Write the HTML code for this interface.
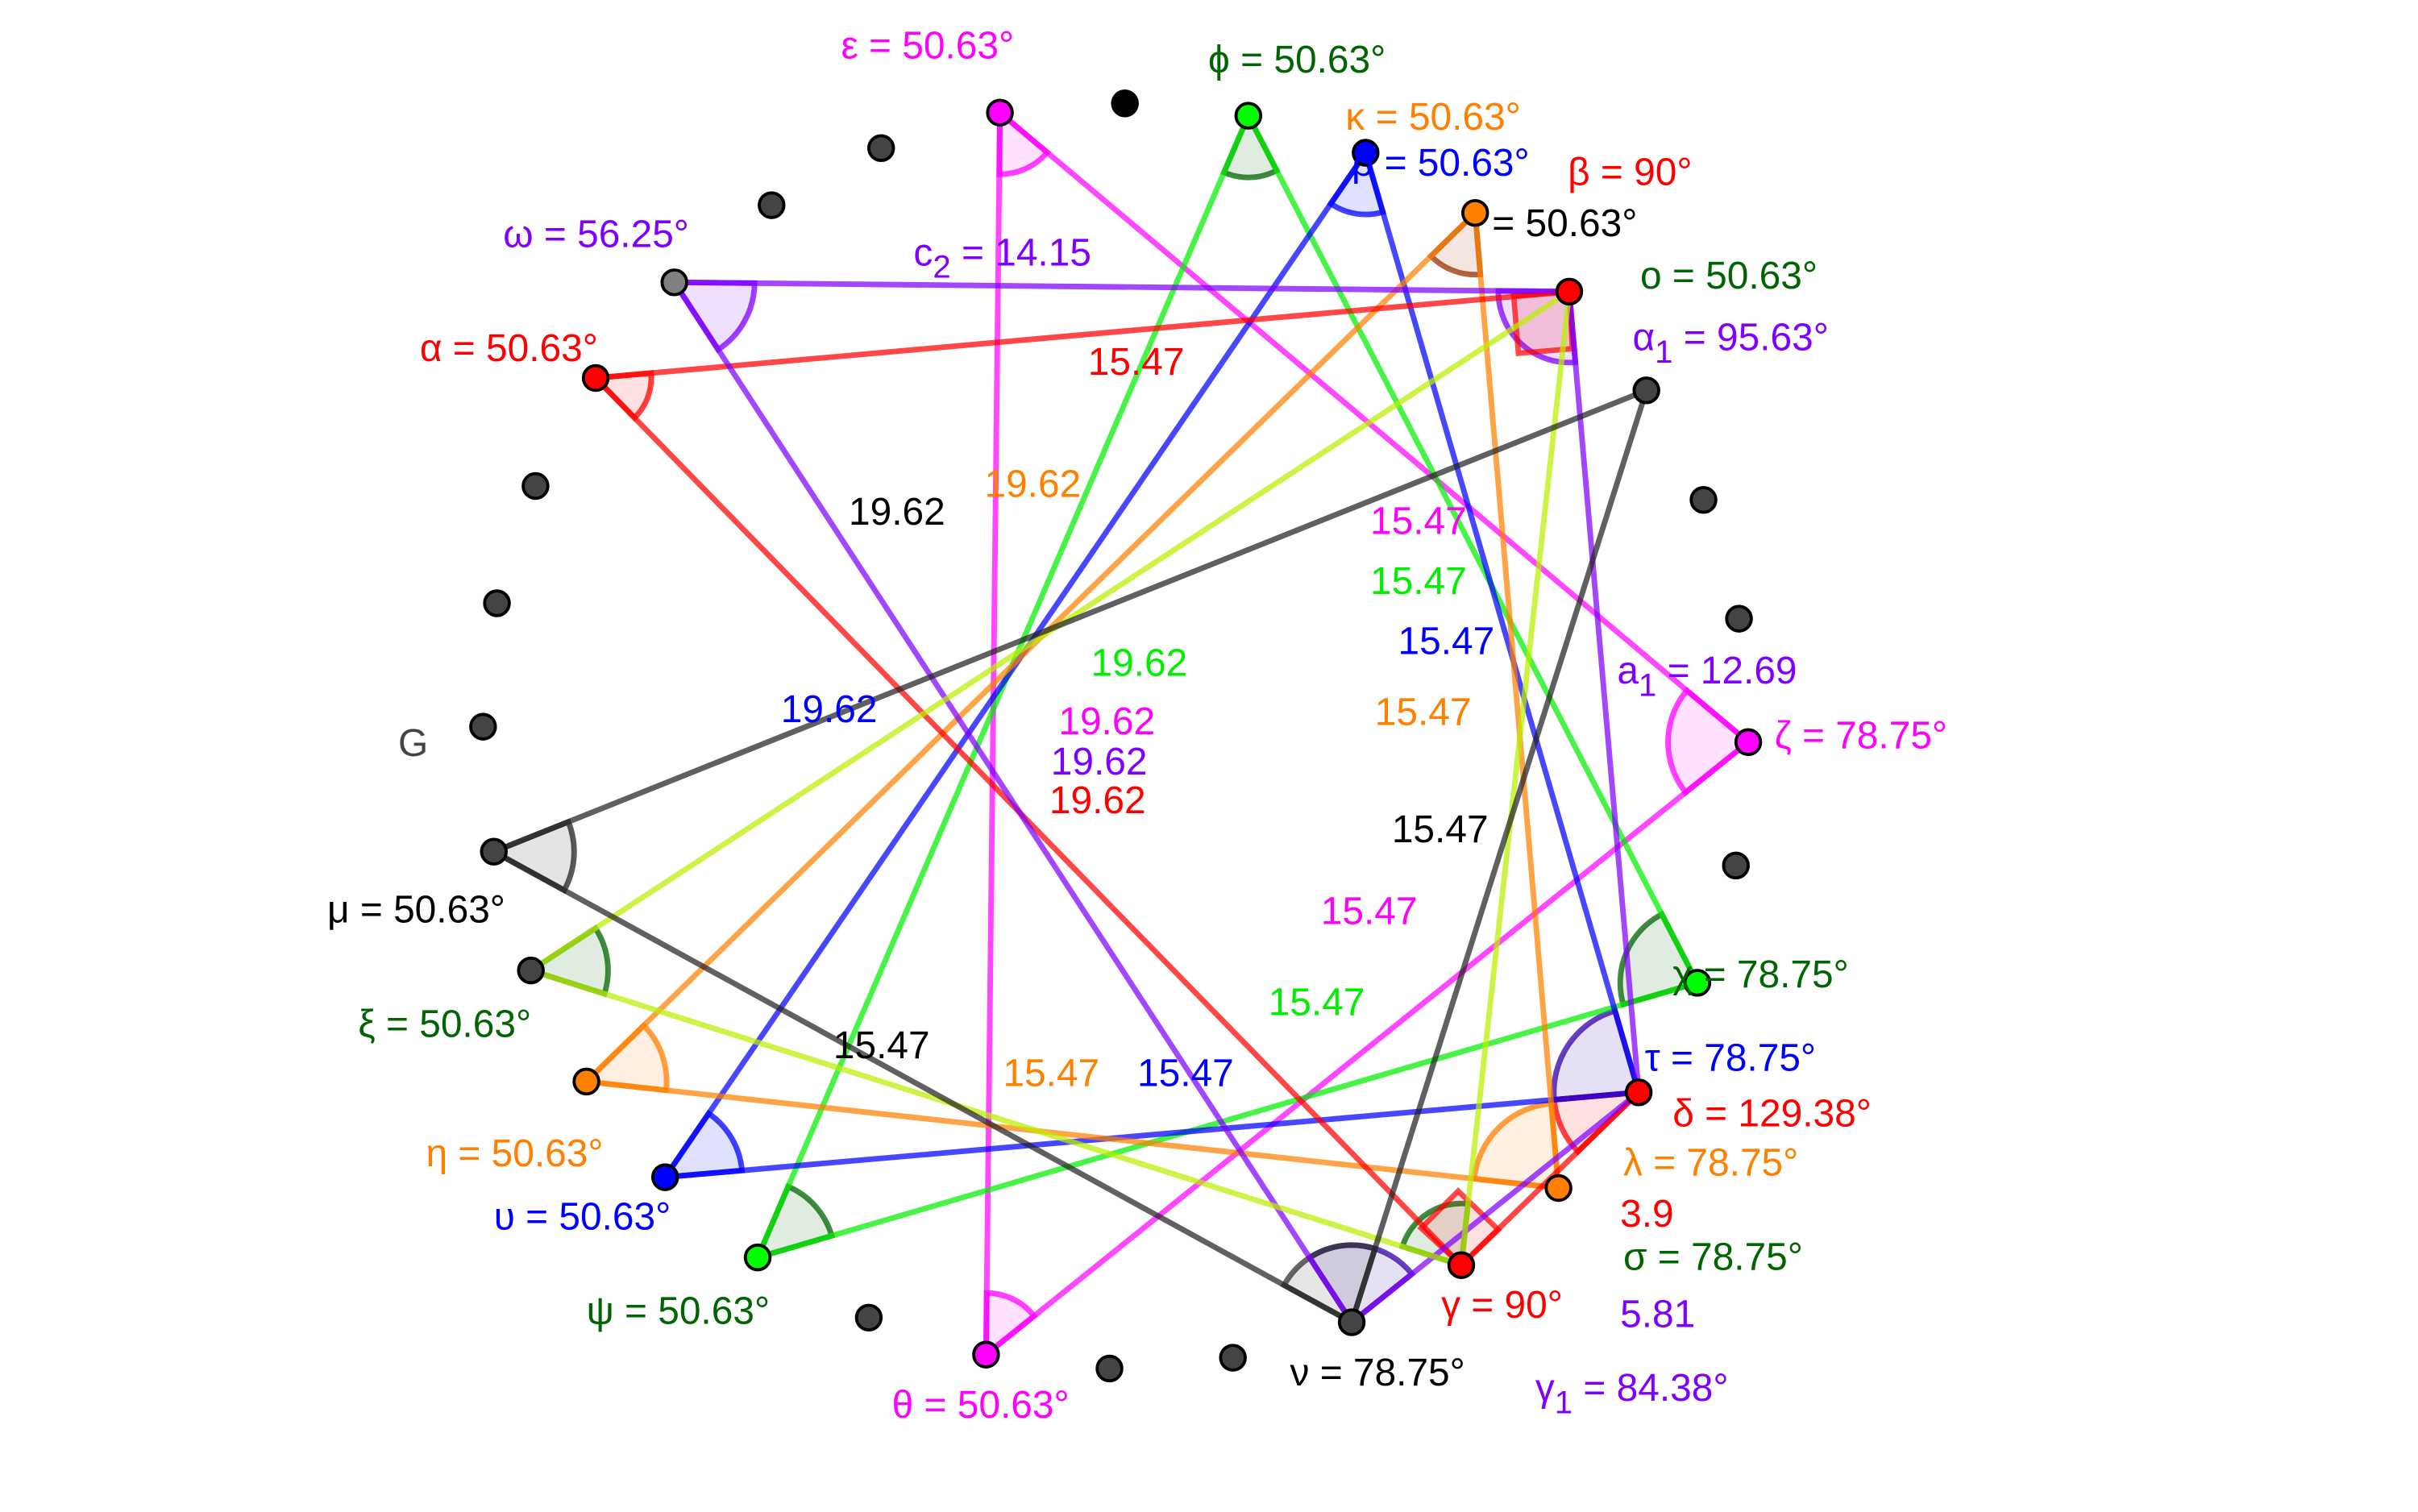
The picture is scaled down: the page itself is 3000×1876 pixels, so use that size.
<!DOCTYPE html>
<html><head><meta charset="utf-8"><style>
html,body{margin:0;padding:0;background:#fff;}
svg{display:block;}
text{font-family:"Liberation Sans",sans-serif;font-size:25px;}
</style></head><body>
<svg id="s" width="3000" height="1876" viewBox="0 0 1567 980" xmlns="http://www.w3.org/2000/svg">
<rect width="1567" height="980" fill="#fff"/>
<g id="arcs"></g>
<g id="lines" stroke-width="3.6" stroke-linecap="round" fill="none"></g>
<g id="pts"></g>
<g>
<text x="545" y="38" fill="#ff00ff">ε = 50.63°</text>
<text x="783" y="47" fill="#006400">ϕ = 50.63°</text>
<text x="872" y="84" fill="#ff7f00">κ = 50.63°</text>
<text x="876" y="114" fill="#0000ff">ρ = 50.63°</text>
<text x="1016" y="120" fill="#ff0000">β = 90°</text>
<text x="967" y="153" fill="#000">= 50.63°</text>
<text x="1063" y="187" fill="#006400">o = 50.63°</text>
<text x="1058" y="227" fill="#7f00ff">α<tspan dy="8" font-size="21">1</tspan><tspan dy="-8"> = 95.63°</tspan></text>
<text x="326" y="160" fill="#7f00ff">ω = 56.25°</text>
<text x="592" y="172" fill="#7f00ff">c<tspan dy="8" font-size="21">2</tspan><tspan dy="-8"> = 14.15</tspan></text>
<text x="272" y="234" fill="#ff0000">α = 50.63°</text>
<text x="705" y="243" fill="#ff0000">15.47</text>
<text x="550" y="340" fill="#000">19.62</text>
<text x="638" y="322" fill="#ff7f00">19.62</text>
<text x="888" y="346" fill="#ff00ff">15.47</text>
<text x="888" y="385" fill="#00ee00">15.47</text>
<text x="906" y="424" fill="#0000ff">15.47</text>
<text x="1048" y="443" fill="#7f00ff">a<tspan dy="8" font-size="21">1</tspan><tspan dy="-8"> = 12.69</tspan></text>
<text x="1150" y="485" fill="#ff00ff">ζ = 78.75°</text>
<text x="707" y="438" fill="#00ee00">19.62</text>
<text x="506" y="468" fill="#0000ff">19.62</text>
<text x="686" y="476" fill="#ff00ff">19.62</text>
<text x="681" y="502" fill="#7f00ff">19.62</text>
<text x="680" y="527" fill="#ff0000">19.62</text>
<text x="891" y="470" fill="#ff7f00">15.47</text>
<text x="258" y="490" fill="#444">G</text>
<text x="902" y="546" fill="#000">15.47</text>
<text x="212" y="598" fill="#000">μ = 50.63°</text>
<text x="856" y="599" fill="#ff00ff">15.47</text>
<text x="1084" y="640" fill="#006400">χ = 78.75°</text>
<text x="232" y="672" fill="#006400">ξ = 50.63°</text>
<text x="822" y="658" fill="#00ee00">15.47</text>
<text x="540" y="686" fill="#000">15.47</text>
<text x="1066" y="694" fill="#0000ff">τ = 78.75°</text>
<text x="650" y="704" fill="#ff7f00">15.47</text>
<text x="737" y="704" fill="#0000ff">15.47</text>
<text x="1084" y="730" fill="#ff0000">δ = 129.38°</text>
<text x="276" y="756" fill="#ff7f00">η = 50.63°</text>
<text x="1052" y="762" fill="#ff7f00">λ = 78.75°</text>
<text x="1050" y="795" fill="#ff0000">3.9</text>
<text x="320" y="797" fill="#0000ff">υ = 50.63°</text>
<text x="1052" y="823" fill="#006400">σ = 78.75°</text>
<text x="934" y="854" fill="#ff0000">γ = 90°</text>
<text x="1050" y="860" fill="#7f00ff">5.81</text>
<text x="380" y="858" fill="#006400">ψ = 50.63°</text>
<text x="836" y="898" fill="#000">ν = 78.75°</text>
<text x="578" y="919" fill="#ff00ff">θ = 50.63°</text>
<text x="995" y="908" fill="#7f00ff">γ<tspan dy="8" font-size="21">1</tspan><tspan dy="-8"> = 84.38°</tspan></text>
</g>
</svg>
<script>
var P={eps:[648,73],phi:[809,75],rho:[885,99],kap:[956,138],beta:[1017,189],a1:[1067,253],
zeta:[1133,481],chi:[1100,637],delta:[1062,708],lam:[1010,770],gam:[947,820],nu:[876,857],
theta:[639,878],psi:[491,815],ups:[431,763],eta:[380,701],xi:[344,629],mu:[320,552],alpha:[386,245],omega:[437,183]};
var NS="http://www.w3.org/2000/svg";
function el(g,t,a){var e=document.createElementNS(NS,t);for(var k in a)e.setAttribute(k,a[k]);document.getElementById(g).appendChild(e);return e;}
var L=[["#ff00ff","eps","zeta"],["#ff00ff","eps","theta"],["#ff00ff","theta","zeta"],
["#00ee00","phi","psi"],["#00ee00","phi","chi"],["#00ee00","psi","chi"],
["#0000ff","rho","ups"],["#0000ff","rho","delta"],["#0000ff","ups","delta"],
["#ff7f00","kap","eta"],["#ff7f00","kap","lam"],["#ff7f00","eta","lam"],
["#ff0000","alpha","beta"],["#ff0000","alpha","gam"],["#ff0000","gam","delta"],
["#7f00ff","omega","beta"],["#7f00ff","omega","nu"],["#7f00ff","beta","delta"],["#7f00ff","nu","delta"],
["#bbee00","beta","xi"],["#bbee00","xi","gam"],["#bbee00","beta","gam"],
["#222","a1","mu"],["#222","mu","nu"],["#222","a1","nu"]];
L.forEach(function(l){var a=P[l[1]],b=P[l[2]];el("lines","line",{x1:a[0],y1:a[1],x2:b[0],y2:b[1],stroke:l[0],"stroke-opacity":0.72});});
function arc(v,a,b,r,c){var V=P[v],A=P[a],B=P[b];
var t1=Math.atan2(A[1]-V[1],A[0]-V[0]),t2=Math.atan2(B[1]-V[1],B[0]-V[0]);
var d=t2-t1;while(d>Math.PI)d-=2*Math.PI;while(d<-Math.PI)d+=2*Math.PI;
var x1=V[0]+r*Math.cos(t1),y1=V[1]+r*Math.sin(t1),x2=V[0]+r*Math.cos(t1+d),y2=V[1]+r*Math.sin(t1+d);
el("arcs","path",{d:"M"+V[0]+","+V[1]+"L"+x1+","+y1+"A"+r+","+r+" 0 0,"+(d>0?1:0)+" "+x2+","+y2+"Z",fill:c,"fill-opacity":0.12,stroke:c,"stroke-width":3.6,"stroke-opacity":0.75});}
arc("alpha","beta","gam",36,"#ff0000");arc("omega","beta","nu",52,"#7f00ff");
arc("eps","zeta","theta",40,"#ff00ff");arc("phi","psi","chi",40,"#006400");
arc("rho","ups","delta",40,"#0000ff");arc("kap","eta","lam",40,"#993300");
arc("beta","omega","delta",46,"#7f00ff");arc("zeta","eps","theta",52,"#ff00ff");
arc("chi","phi","psi",50,"#006400");arc("delta","rho","ups",55,"#3300aa");
arc("delta","ups","gam",55,"#ff0000");arc("lam","kap","eta",55,"#ff7f00");
arc("nu","omega","delta",50,"#3300aa");arc("nu","a1","mu",50,"#333");
arc("theta","eps","zeta",40,"#ff00ff");arc("psi","phi","chi",50,"#006400");
arc("ups","rho","delta",50,"#0000ff");arc("eta","kap","lam",52,"#ff7f00");
arc("xi","beta","gam",50,"#006400");arc("mu","a1","nu",52,"#222");
arc("gam","xi","beta",40,"#006400");
el("arcs","path",{d:"M1017,189 L981,192 L984,229 L1019,226Z",fill:"#ff0000","fill-opacity":0.15,stroke:"#ff0000","stroke-width":3.5,"stroke-opacity":0.7});
el("arcs","path",{d:"M947,820 L921,796 L945,772 L971,797Z",fill:"#ff0000","fill-opacity":0.12,stroke:"#ff0000","stroke-width":3.5,"stroke-opacity":0.7});
var C={eps:"#ff00ff",phi:"#00ff00",rho:"#0000ff",kap:"#ff8000",beta:"#ff0000",a1:"#444",zeta:"#ff00ff",chi:"#00ff00",delta:"#ff0000",lam:"#ff8000",gam:"#ff0000",nu:"#444",theta:"#ff00ff",psi:"#00ff00",ups:"#0000ff",eta:"#ff8000",xi:"#444",mu:"#444",alpha:"#ff0000",omega:"#808080"};
for(var k in P)el("pts","circle",{cx:P[k][0],cy:P[k][1],r:8,fill:C[k],stroke:"#000","stroke-width":2});
[[729,67,"#000"],[571,96,"#444"],[500,133,"#444"],[347,315,"#444"],[322,391,"#444"],[313,471,"#444"],[1104,324,"#444"],[1127,401,"#444"],[1125,561,"#444"],[799,880,"#444"],[719,887,"#444"],[563,854,"#444"]].forEach(function(d){el("pts","circle",{cx:d[0],cy:d[1],r:8,fill:d[2],stroke:"#000","stroke-width":2});});
</script>
</body></html>
